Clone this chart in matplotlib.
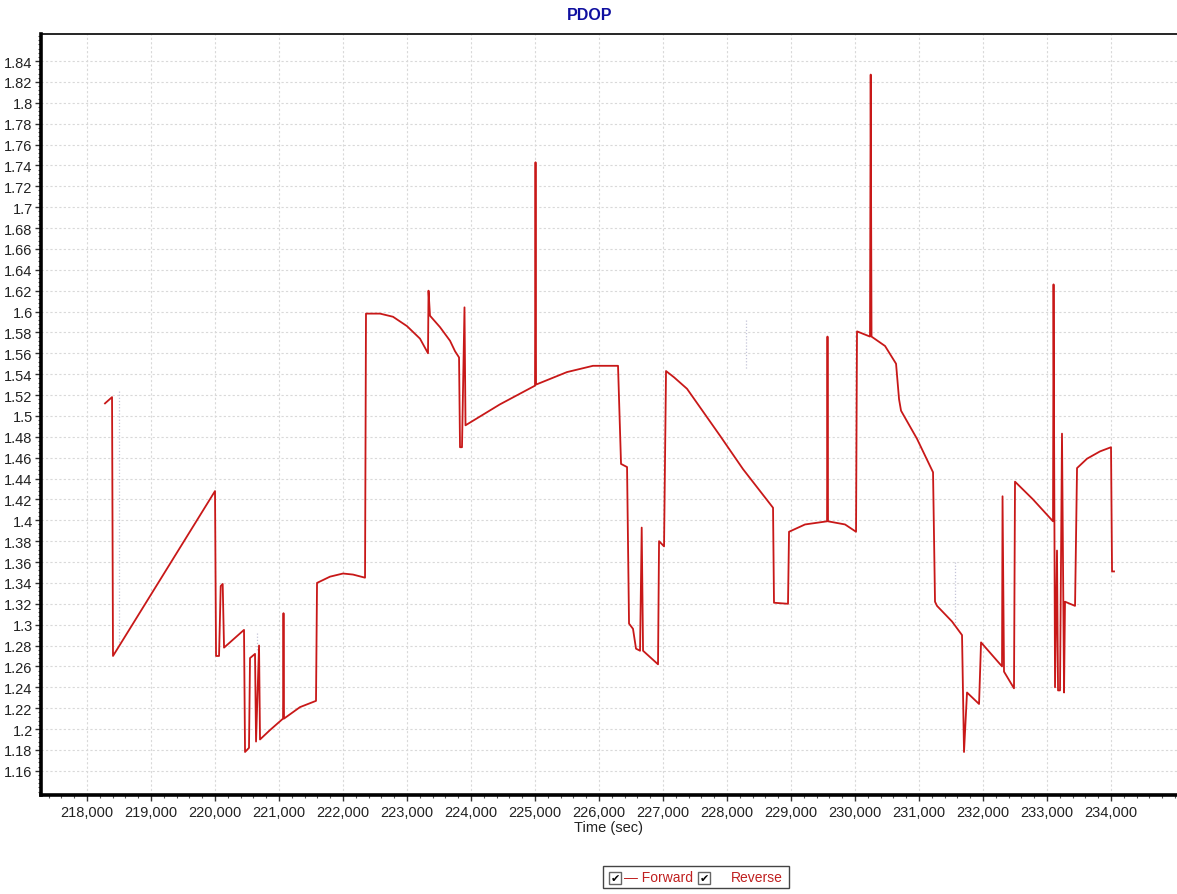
import matplotlib
matplotlib.use("Agg")
import matplotlib.pyplot as plt
from matplotlib.ticker import MultipleLocator, FixedLocator, FuncFormatter
from matplotlib.patches import Rectangle
import numpy as np

plt.rcParams['font.family'] = ['Liberation Sans', 'DejaVu Sans']

# Forward PDOP series (time in sec, PDOP)
fwd_time = [218281, 218391, 218406, 220000, 220016, 220063, 220089, 220120, 220141,
            220453, 220469, 220531, 220547, 220625, 220641, 220688, 220703, 220859,
            221063, 221070, 221078, 221328, 221578, 221594, 221797, 222000, 222156,
            222344, 222359, 222578, 222781, 223000, 223203, 223328, 223336, 223359,
            223516, 223672, 223750, 223813, 223828, 223859, 223898, 223914, 224450,
            225000, 225008, 225016, 225500, 225906, 226297, 226344, 226438, 226469,
            226531, 226578, 226641, 226667, 226688, 226922, 226938, 227016, 227047,
            227172, 227375, 227891, 228250, 228719, 228734, 228953, 228969, 229219,
            229563, 229570, 229578, 229844, 230016, 230031, 230234, 230245, 230258,
            230469, 230641, 230688, 230719, 230969, 231219, 231250, 231281, 231516,
            231672, 231703, 231750, 231938, 231969, 232297, 232305, 232328, 232484,
            232500, 232781, 233094, 233102, 233125, 233156, 233172, 233203, 233234,
            233266, 233281, 233438, 233469, 233625, 233828, 234000, 234016, 234047]
fwd_pdop = [1.512, 1.518, 1.270, 1.428, 1.270, 1.270, 1.337, 1.339, 1.278,
            1.295, 1.178, 1.182, 1.268, 1.272, 1.188, 1.280, 1.190, 1.199,
            1.210, 1.311, 1.210, 1.221, 1.227, 1.340, 1.346, 1.349, 1.348,
            1.345, 1.598, 1.598, 1.595, 1.586, 1.574, 1.560, 1.620, 1.596,
            1.585, 1.572, 1.562, 1.556, 1.470, 1.470, 1.604, 1.491, 1.511,
            1.529, 1.743, 1.530, 1.542, 1.548, 1.548, 1.454, 1.451, 1.301,
            1.296, 1.277, 1.275, 1.393, 1.275, 1.262, 1.380, 1.375, 1.543,
            1.537, 1.526, 1.481, 1.449, 1.412, 1.321, 1.320, 1.389, 1.396,
            1.399, 1.576, 1.399, 1.396, 1.389, 1.581, 1.576, 1.827, 1.576,
            1.567, 1.550, 1.516, 1.505, 1.478, 1.446, 1.322, 1.318, 1.303,
            1.290, 1.178, 1.235, 1.224, 1.283, 1.260, 1.423, 1.255, 1.239,
            1.437, 1.420, 1.399, 1.626, 1.240, 1.371, 1.237, 1.237, 1.483,
            1.235, 1.322, 1.318, 1.450, 1.459, 1.466, 1.470, 1.351, 1.351]

# Reverse series (faint dotted fragments, NaN separated)
rev_time = [218500, 218500, np.nan, 220656, 220656, np.nan, 228300, 228300, np.nan, 231560, 231560]
rev_pdop = [1.524, 1.282, np.nan, 1.292, 1.276, np.nan, 1.592, 1.545, np.nan, 1.360, 1.302]

x_ticks = [218000, 219000, 220000, 221000, 222000, 223000, 224000, 225000,
           226000, 227000, 228000, 229000, 230000, 231000, 232000, 233000, 234000]
y_ticks = [1.16, 1.18, 1.20, 1.22, 1.24, 1.26, 1.28, 1.30, 1.32, 1.34, 1.36, 1.38,
           1.40, 1.42, 1.44, 1.46, 1.48, 1.50, 1.52, 1.54, 1.56, 1.58, 1.60, 1.62,
           1.64, 1.66, 1.68, 1.70, 1.72, 1.74, 1.76, 1.78, 1.80, 1.82, 1.84]

W, H = 1177, 895
fig = plt.figure(figsize=(W / 100, H / 100), dpi=100)
ax = fig.add_axes([41 / W, 1 - 796 / H, 1 - 41 / W, (796 - 35) / H])

ax.plot(rev_time, rev_pdop, color='#c4c4d8', lw=0.9, ls=(0, (1, 1.5)), zorder=2)
ax.plot(fwd_time, fwd_pdop, color='#c81818', lw=1.3, zorder=3)

ax.set_xlim(217281, 235031)
ax.set_ylim(1.1368, 1.8659)

ax.xaxis.set_major_locator(FixedLocator(x_ticks))
ax.xaxis.set_minor_locator(MultipleLocator(200))
ax.yaxis.set_major_locator(FixedLocator(y_ticks))
ax.yaxis.set_minor_locator(MultipleLocator(0.004))
ax.xaxis.set_major_formatter(FuncFormatter(lambda v, p: f"{int(round(v)):,}"))
ax.yaxis.set_major_formatter(FuncFormatter(lambda v, p: f"{v:.2f}".rstrip('0').rstrip('.')))

ax.tick_params(axis='both', which='major', labelsize=10.5, length=4, width=1, color='#333333',
               labelcolor='#222222')
ax.tick_params(axis='both', which='minor', length=2.5, width=0.8, color='#555555')
ax.tick_params(axis='x', which='major', pad=3)
ax.tick_params(axis='y', which='major', pad=2)

ax.grid(True, which='major', color='#d9d9d9', ls=(0, (2, 2)), lw=0.8)
ax.set_axisbelow(True)

ax.spines['left'].set_linewidth(2.6)
ax.spines['bottom'].set_linewidth(2.6)
ax.spines['top'].set_linewidth(1.2)
ax.spines['right'].set_visible(False)

ax.set_xlabel("Time (sec)", fontsize=10.5, labelpad=1, color='#222222')

fig.text(590 / W, 1 - 16 / H, "PDOP", ha='center', va='center', fontsize=11.5,
         fontweight='bold', color='#1010a0')

# Legend (drawn as in the original)
def fx(px):
    return px / W

def fy(py):
    return 1 - py / H

fig.patches.append(Rectangle((fx(603), fy(889)), (789 - 603) / W, (889 - 867) / H,
                             transform=fig.transFigure, fill=False, ec='#444444', lw=1.0))
for bx in (609, 698):
    fig.patches.append(Rectangle((fx(bx), fy(885)), 12 / W, 12 / H, transform=fig.transFigure,
                                 fill=False, ec='#666666', lw=1.0))
    fig.text(fx(bx + 6), fy(879), "✔", ha='center', va='center', fontsize=8,
             family='DejaVu Sans', color='black')
fig.text(fx(624), fy(878), "— Forward", ha='left', va='center', fontsize=10, color='#c02020')
fig.text(fx(731), fy(878), "Reverse", ha='left', va='center', fontsize=10, color='#c02020')

fig.savefig("out.png", dpi=100)
